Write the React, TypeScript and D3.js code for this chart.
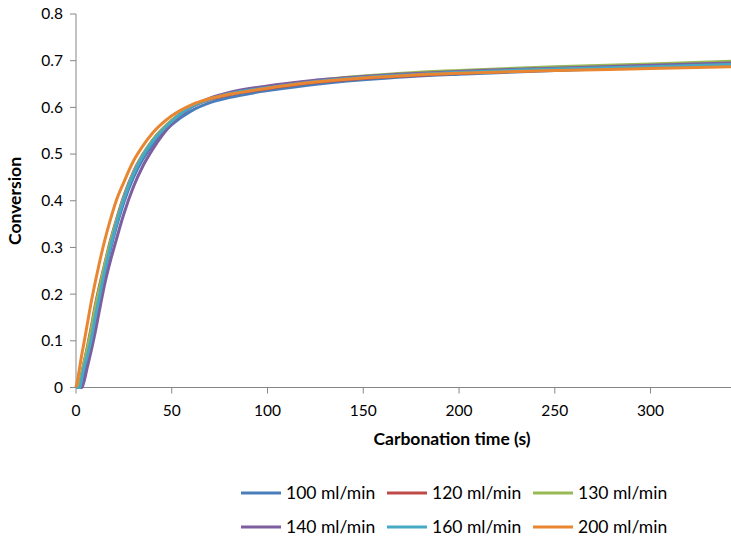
import React from "react";
import * as d3 from "d3";

const times = [0, 1, 2, 3, 4, 6, 8, 10, 12, 15, 18, 21, 25, 30, 35, 40, 50, 60, 70, 80, 100, 120, 150, 175, 200, 250, 300, 342];

const flow100 = [0, 0, 0, 0.01, 0.03, 0.065, 0.1, 0.142, 0.183, 0.243, 0.296, 0.343, 0.397, 0.45, 0.49, 0.52, 0.563, 0.592, 0.61, 0.621, 0.636, 0.647, 0.659, 0.666, 0.671, 0.679, 0.686, 0.692];
const flow120 = [0, 0, 0.01, 0.03, 0.05, 0.088, 0.13, 0.175, 0.213, 0.265, 0.315, 0.358, 0.41, 0.462, 0.5, 0.53, 0.572, 0.601, 0.617, 0.627, 0.64, 0.651, 0.662, 0.668, 0.673, 0.68, 0.686, 0.69];
const flow130 = [0, 0, 0.008, 0.028, 0.048, 0.085, 0.125, 0.17, 0.208, 0.262, 0.312, 0.355, 0.407, 0.46, 0.499, 0.529, 0.572, 0.602, 0.619, 0.63, 0.644, 0.655, 0.667, 0.674, 0.679, 0.687, 0.693, 0.699];
const flow140 = [0, 0, 0, 0, 0.01, 0.045, 0.08, 0.118, 0.16, 0.222, 0.272, 0.316, 0.372, 0.43, 0.475, 0.51, 0.565, 0.6, 0.62, 0.632, 0.646, 0.656, 0.666, 0.672, 0.677, 0.684, 0.69, 0.695];
const flow160 = [0, 0, 0, 0.02, 0.04, 0.07, 0.105, 0.15, 0.19, 0.25, 0.302, 0.35, 0.405, 0.458, 0.497, 0.527, 0.57, 0.601, 0.618, 0.629, 0.642, 0.653, 0.664, 0.67, 0.675, 0.682, 0.687, 0.692];
const flow200 = [0, 0.02, 0.045, 0.07, 0.092, 0.138, 0.184, 0.225, 0.263, 0.315, 0.36, 0.4, 0.44, 0.485, 0.518, 0.545, 0.582, 0.605, 0.619, 0.628, 0.641, 0.652, 0.663, 0.669, 0.673, 0.679, 0.683, 0.687];

const seriesNames = ["100 ml/min", "120 ml/min", "130 ml/min", "140 ml/min", "160 ml/min", "200 ml/min"];
const seriesValues = [flow100, flow120, flow130, flow140, flow160, flow200];
const colors = ["#4A7EBB", "#BE4B48", "#98B954", "#7D5FA0", "#46AAC5", "#E88632"];

const xTicks = [0, 50, 100, 150, 200, 250, 300];
const yTicks = [0, 0.1, 0.2, 0.3, 0.4, 0.5, 0.6, 0.7, 0.8];

const W = 731;
const H = 544;
const font = "Lato, 'Open Sans', sans-serif";
const axisColor = "#868686";

const App = () => {
  const x = d3.scaleLinear().domain([0, 342]).range([76, 731]);
  const y = d3.scaleLinear().domain([0, 0.8]).range([387.5, 14]);

  const line = d3
    .line<number>()
    .x((d, i) => x(times[i]))
    .y((d) => y(d))
    .curve(d3.curveMonotoneX);

  return (
    <svg width={W} height={H} style={{ position: "absolute", left: 0, top: 0 }}>
      <rect width={W} height={H} fill="#fff" />
      {/* axes */}
      <line x1={x(0)} x2={x(0)} y1={y(0.8)} y2={y(0)} stroke={axisColor} strokeWidth={1} />
      <line x1={x(0)} x2={W} y1={y(0)} y2={y(0)} stroke={axisColor} strokeWidth={1} />
      {yTicks.map((t) => (
        <g key={"y" + t}>
          <line x1={x(0) - 6} x2={x(0)} y1={y(t)} y2={y(t)} stroke={axisColor} />
          <text x={63} y={y(t)} dy="0.35em" textAnchor="end" fontFamily={font} fontSize={15.5} fill="#000">
            {t === 0 ? "0" : d3.format(".1f")(t)}
          </text>
        </g>
      ))}
      {xTicks.map((t) => (
        <g key={"x" + t}>
          <line x1={x(t)} x2={x(t)} y1={y(0)} y2={y(0) + 6} stroke={axisColor} />
          <text x={x(t)} y={416} textAnchor="middle" fontFamily={font} fontSize={15.5} fill="#000">
            {t}
          </text>
        </g>
      ))}
      <text x={452} y={445} textAnchor="middle" fontFamily={font} fontSize={17.5} fontWeight="bold">
        Carbonation time (s)
      </text>
      <text
        transform={`translate(21,201) rotate(-90)`}
        textAnchor="middle"
        fontFamily={font}
        fontSize={17.5}
        fontWeight="bold"
      >
        Conversion
      </text>
      {/* series */}
      {seriesValues.map((vals, i) => (
        <path key={seriesNames[i]} d={line(vals) || ""} fill="none" stroke={colors[i]} strokeWidth={3} />
      ))}
      {/* legend */}
      {seriesNames.map((name, i) => {
        const col = i % 3;
        const row = Math.floor(i / 3);
        const lx = 241 + col * 146;
        const ly = 493 + row * 34;
        return (
          <g key={"lg" + name}>
            <line x1={lx} x2={lx + 40} y1={ly} y2={ly} stroke={colors[i]} strokeWidth={3} />
            <text x={lx + 45} y={ly} dy="0.35em" fontFamily={font} fontSize={17.5}>
              {name}
            </text>
          </g>
        );
      })}
    </svg>
  );
};

export default App;
